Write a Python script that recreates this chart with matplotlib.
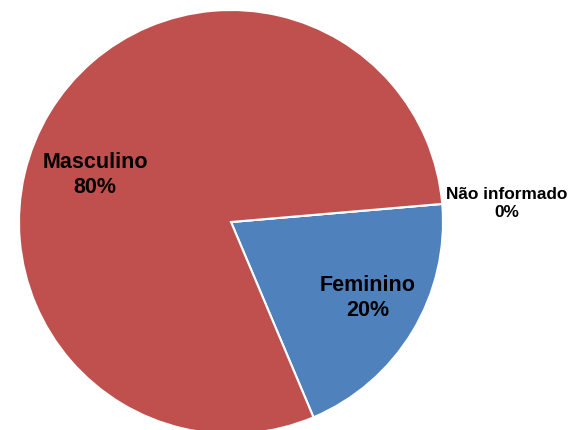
import matplotlib
matplotlib.use("Agg")
import matplotlib.pyplot as plt

# data (percent)
categories = ["Feminino", "Não informado", "Masculino"]
values = [20, 0, 80]
colors = ["#4F81BD", "#C0504D", "#C0504D"]

# label placement in data units (pie radius = 1)
label_pos = {
    "Masculino": (-0.642, 0.226),
    "Feminino": (0.646, -0.352),
    "Não informado": (1.30, 0.094),
}
label_size = {"Masculino": 15.5, "Feminino": 15.5, "Não informado": 12.4}

plt.rcParams["font.family"] = ["Liberation Sans", "DejaVu Sans"]

W, H = 572, 431
fig = plt.figure(figsize=(W / 100, H / 100), dpi=100)
cx, cy, R = 231, H - 223, 212
ax = fig.add_axes([(cx - R) / W, (cy - R) / H, 2 * R / W, 2 * R / H])

ax.pie(values, colors=colors, startangle=-67.1, counterclock=True,
       wedgeprops=dict(edgecolor="white", linewidth=1.5), radius=1)
ax.set_xlim(-1, 1)
ax.set_ylim(-1, 1)
ax.set_aspect("equal")
ax.axis("off")

for cat, val in zip(categories, values):
    x, y = label_pos[cat]
    ax.text(x, y, f"{cat}\n{val}%", ha="center", va="center",
            fontsize=label_size[cat], fontweight="bold", color="black",
            linespacing=1.25, clip_on=False)

fig.savefig("out.png", dpi=100, facecolor="white")
